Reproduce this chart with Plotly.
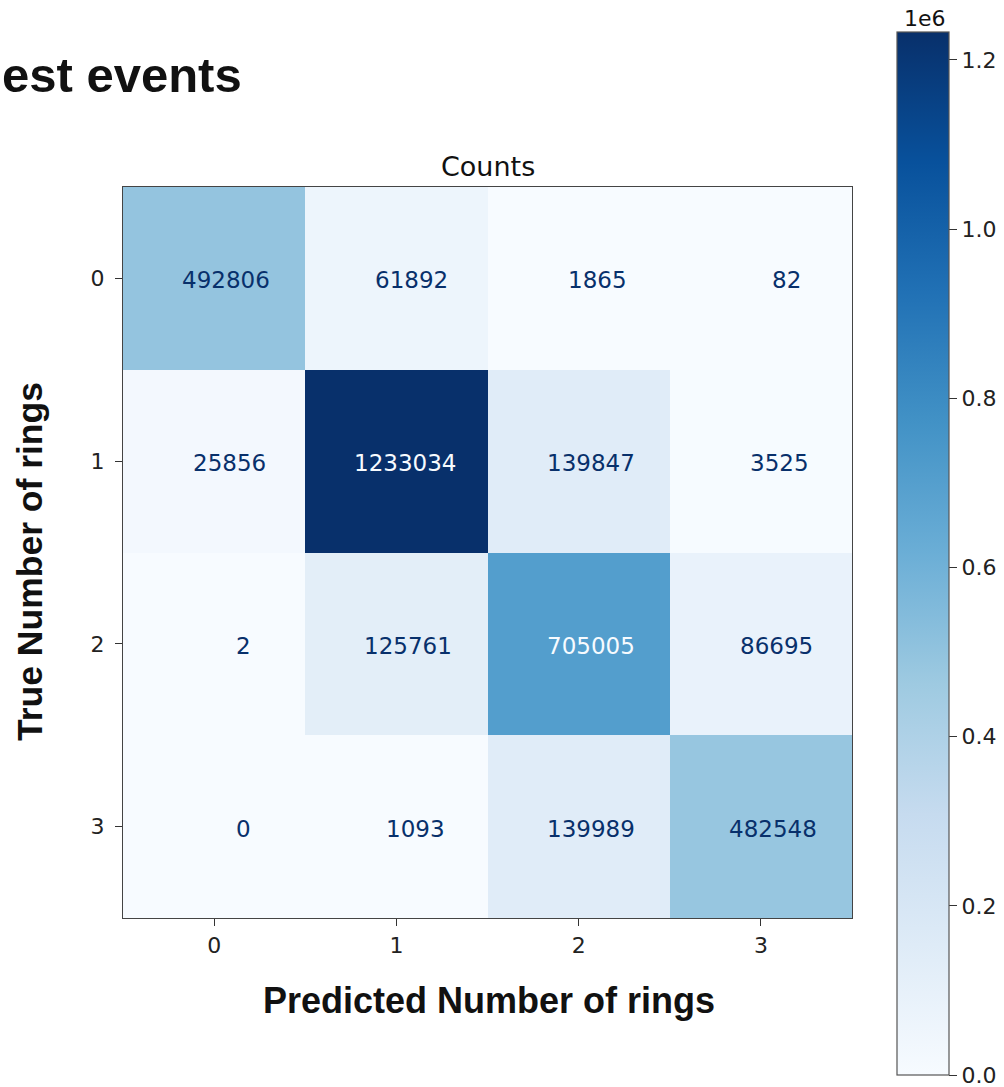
import plotly.graph_objects as go
import plotly.colors as pc

# Confusion matrix of ring counts (rows: true, columns: predicted)
true_labels = ["0", "1", "2", "3"]
pred_labels = ["0", "1", "2", "3"]
row_0 = [492806, 61892, 1865, 82]
row_1 = [25856, 1233034, 139847, 3525]
row_2 = [2, 125761, 705005, 86695]
row_3 = [0, 1093, 139989, 482548]
counts = [row_0, row_1, row_2, row_3]

cbar_vals = [0, 200000, 400000, 600000, 800000, 1000000, 1200000]
cbar_text = ["0.0", "0.2", "0.4", "0.6", "0.8", "1.0", "1.2"]

W, H = 1004, 1087
blues = pc.sequential.Blues
vmin = min(min(r) for r in counts)
vmax = max(max(r) for r in counts)
thresh = (vmin + vmax) / 2

fig = go.Figure()
fig.add_trace(go.Heatmap(
    z=counts,
    x=pred_labels,
    y=true_labels,
    colorscale=blues,
    zmin=vmin,
    zmax=vmax,
    xgap=0, ygap=0,
    hoverinfo="skip",
    colorbar=dict(
        x=897 / W, xanchor="left", xpad=0,
        y=1 - 553.5 / H, yanchor="middle", ypad=0,
        thickness=52, lenmode="pixels", len=1043,
        outlinewidth=1.2, outlinecolor="#555",
        tickmode="array", tickvals=cbar_vals, ticktext=cbar_text,
        ticks="outside", ticklen=8, tickwidth=1.2, tickcolor="#333",
        ticklabeloverflow="allow",
        tickfont=dict(family="DejaVu Sans", size=22, color="#222"),
    ),
))

# Cell value labels: light text on dark cells, dark text on light cells;
# the numbers sit slightly right of the cell centre, shorter ones more so
for i, row in enumerate(counts):
    for j, v in enumerate(row):
        s = str(v)
        fig.add_annotation(
            x=pred_labels[j], y=true_labels[i], text=s, showarrow=False,
            xshift=33 - 3.5 * len(s), yshift=-2,
            font=dict(family="DejaVu Sans", size=23,
                      color="#f7fbff" if v > thresh else "#08306b"),
        )

axis_common = dict(
    showgrid=False, zeroline=False, showline=True, mirror=True,
    linecolor="#444", linewidth=1.3,
    ticks="outside", ticklen=7, tickwidth=1.2, tickcolor="#333",
    tickfont=dict(family="DejaVu Sans", size=22, color="#222"),
)
fig.update_xaxes(domain=[123 / W, 852 / W], type="category", **axis_common)
fig.update_yaxes(domain=[1 - 918 / H, 1 - 187 / H], type="category",
                 autorange="reversed", ticklabelstandoff=6, **axis_common)


def label(text, x, y, size, family="DejaVu Sans", angle=0, xanchor="center"):
    fig.add_annotation(xref="paper", yref="paper", x=x / W, y=1 - y / H,
                       xanchor=xanchor, yanchor="middle", text=text,
                       showarrow=False, textangle=angle,
                       font=dict(family=family, size=size, color="#111"))


# Titles
label("Counts", 488, 166, 27)
label("<b>Predicted Number of rings</b>", 489, 1000, 36, family="Liberation Sans")
label("<b>True Number of rings</b>", 30, 562, 35.5, family="Liberation Sans", angle=-90)
label("<b>est events</b>", 0, 75, 49, family="Liberation Sans", xanchor="left")
label("1e6", 925, 18, 22)

fig.update_layout(
    width=W, height=H,
    margin=dict(l=0, r=0, t=0, b=0),
    paper_bgcolor="white", plot_bgcolor="white",
    showlegend=False,
)

fig.write_html("out.html")
